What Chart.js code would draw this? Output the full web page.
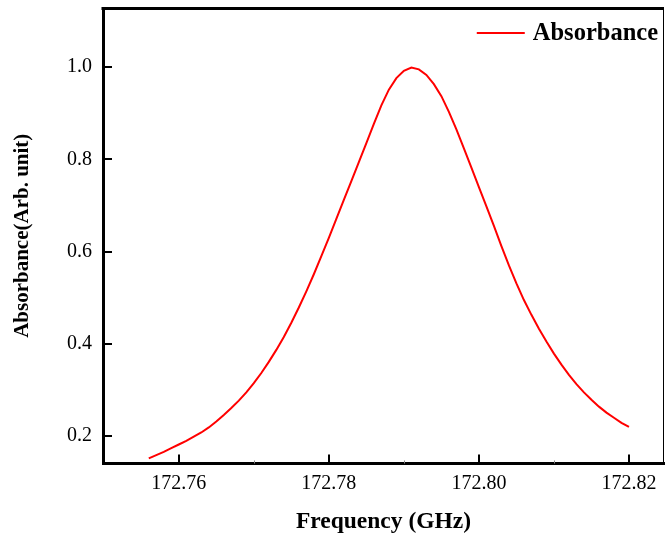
<!DOCTYPE html>
<html><head><meta charset="utf-8">
<script src="https://cdn.jsdelivr.net/npm/chart.js@4.4.0/dist/chart.umd.min.js"></script>
<style>html,body{margin:0;padding:0;background:#fff}#wrap{width:666px;height:537px}</style>
</head><body><div id="wrap"><canvas id="c" width="666" height="537"></canvas></div>
<script>
// Frequency (GHz) samples and absorbance values
const frequency = [
  172.756,172.757,172.758,172.759,172.760,172.761,172.762,172.763,172.764,172.765,
  172.766,172.767,172.768,172.769,172.770,172.771,172.772,172.773,172.774,172.775,
  172.776,172.777,172.778,172.779,172.780,172.781,172.782,172.783,172.784,172.785,
  172.786,172.787,172.788,172.789,172.790,172.791,172.792,172.793,172.794,172.795,
  172.796,172.797,172.798,172.799,172.800,172.801,172.802,172.803,172.804,172.805,
  172.806,172.807,172.808,172.809,172.810,172.811,172.812,172.813,172.814,172.815,
  172.816,172.817,172.818,172.819,172.820
];
const absorbance = [
  0.152,0.159,0.166,0.174,0.182,0.190,0.199,0.208,0.219,0.232,
  0.246,0.261,0.277,0.295,0.315,0.337,0.361,0.387,0.415,0.446,
  0.479,0.514,0.551,0.590,0.630,0.671,0.712,0.753,0.794,0.835,
  0.877,0.917,0.951,0.976,0.992,0.999,0.995,0.983,0.963,0.937,
  0.903,0.865,0.824,0.782,0.740,0.698,0.656,0.612,0.570,0.531,
  0.495,0.463,0.433,0.405,0.379,0.355,0.333,0.313,0.295,0.279,
  0.264,0.251,0.240,0.229,0.220
];
const xTicks = [172.76, 172.78, 172.80, 172.82];
const xMinorTicks = [172.77, 172.79, 172.81];
const yTicks = [0.2, 0.4, 0.6, 0.8, 1.0];
const seriesLabel = 'Absorbance';
const xTitle = 'Frequency (GHz)';
const yTitle = 'Absorbance(Arb. unit)';

const SERIF = "'Liberation Serif', 'Times New Roman', serif";

const framePlugin = {
  id: 'frame',
  afterDraw(chart) {
    const {ctx, chartArea: a, scales: {x, y}} = chart;
    ctx.save();
    ctx.strokeStyle = '#000';
    // top border
    ctx.lineWidth = 3;
    ctx.beginPath(); ctx.moveTo(a.left - 1.5, a.top + 0.5); ctx.lineTo(a.right, a.top + 0.5); ctx.stroke();
    // right border
    ctx.lineWidth = 1;
    ctx.beginPath(); ctx.moveTo(a.right - 0.5, a.top); ctx.lineTo(a.right - 0.5, a.bottom); ctx.stroke();
    // x major ticks (inward)
    ctx.lineWidth = 2;
    xTicks.forEach(v => {
      const px = Math.round(x.getPixelForValue(v));
      ctx.beginPath(); ctx.moveTo(px, a.bottom); ctx.lineTo(px, a.bottom - 9); ctx.stroke();
    });
    // x minor ticks
    ctx.lineWidth = 1; ctx.strokeStyle = '#888';
    xMinorTicks.forEach(v => {
      const px = Math.round(x.getPixelForValue(v)) + 0.5;
      ctx.beginPath(); ctx.moveTo(px, a.bottom); ctx.lineTo(px, a.bottom - 3); ctx.stroke();
    });
    // y major ticks (inward)
    ctx.strokeStyle = '#000'; ctx.lineWidth = 2;
    yTicks.forEach(v => {
      const py = Math.round(y.getPixelForValue(v));
      ctx.beginPath(); ctx.moveTo(a.left, py); ctx.lineTo(a.left + 9, py); ctx.stroke();
    });
    // legend
    const ds = chart.data.datasets[0];
    ctx.font = "bold 24.5px " + SERIF;
    ctx.textBaseline = 'middle';
    ctx.textAlign = 'left';
    const tw = ctx.measureText(ds.label).width;
    const tx = a.right - 6 - tw;
    const ly = 33;
    ctx.strokeStyle = ds.borderColor; ctx.lineWidth = 2;
    ctx.beginPath(); ctx.moveTo(tx - 56, ly); ctx.lineTo(tx - 8, ly); ctx.stroke();
    ctx.fillStyle = '#000';
    ctx.fillText(ds.label, tx, ly + 1);
    ctx.restore();
  }
};

new Chart(document.getElementById('c'), {
  type: 'line',
  data: {
    datasets: [{
      label: seriesLabel,
      data: frequency.map((f, i) => ({x: f, y: absorbance[i]})),
      borderColor: '#ff0000',
      backgroundColor: '#ff0000',
      borderWidth: 2,
      pointRadius: 0,
      tension: 0,
      fill: false
    }]
  },
  options: {
    responsive: false,
    animation: false,
    devicePixelRatio: 1,
    layout: {padding: {top: 8, right: 2, left: 0, bottom: 0}},
    plugins: {legend: {display: false}, tooltip: {enabled: false}},
    scales: {
      x: {
        type: 'linear',
        min: 172.7499,
        max: 172.82467,
        afterBuildTicks: s => { s.ticks = xTicks.map(v => ({value: v})); },
        afterFit: s => { s.height = 73.5; s.paddingLeft = 0; s.paddingRight = 0; },
        grid: {display: false, drawTicks: false},
        border: {display: true, color: '#000', width: 3},
        ticks: {
          padding: 8,
          color: '#000',
          font: {family: SERIF, size: 20},
          maxRotation: 0,
          callback: v => Number(v).toFixed(2)
        },
        title: {display: true, text: xTitle, color: '#000', padding: {top: 0, bottom: 1},
          font: {family: SERIF, size: 23.5, weight: 'bold'}}
      },
      y: {
        type: 'linear',
        min: 0.1408,
        max: 1.128,
        afterBuildTicks: s => { s.ticks = yTicks.map(v => ({value: v})); },
        afterFit: s => { s.width = 103; s.paddingTop = 0; s.paddingBottom = 0; },
        grid: {display: false, drawTicks: false},
        border: {display: true, color: '#000', width: 3},
        ticks: {
          padding: 11,
          color: '#000',
          font: {family: SERIF, size: 20},
          callback: v => Number(v).toFixed(1)
        },
        title: {display: true, text: yTitle, color: '#000', padding: {top: 10, bottom: 0},
          font: {family: SERIF, size: 21, weight: 'bold'}}
      }
    }
  },
  plugins: [framePlugin]
});
</script>
</body></html>
